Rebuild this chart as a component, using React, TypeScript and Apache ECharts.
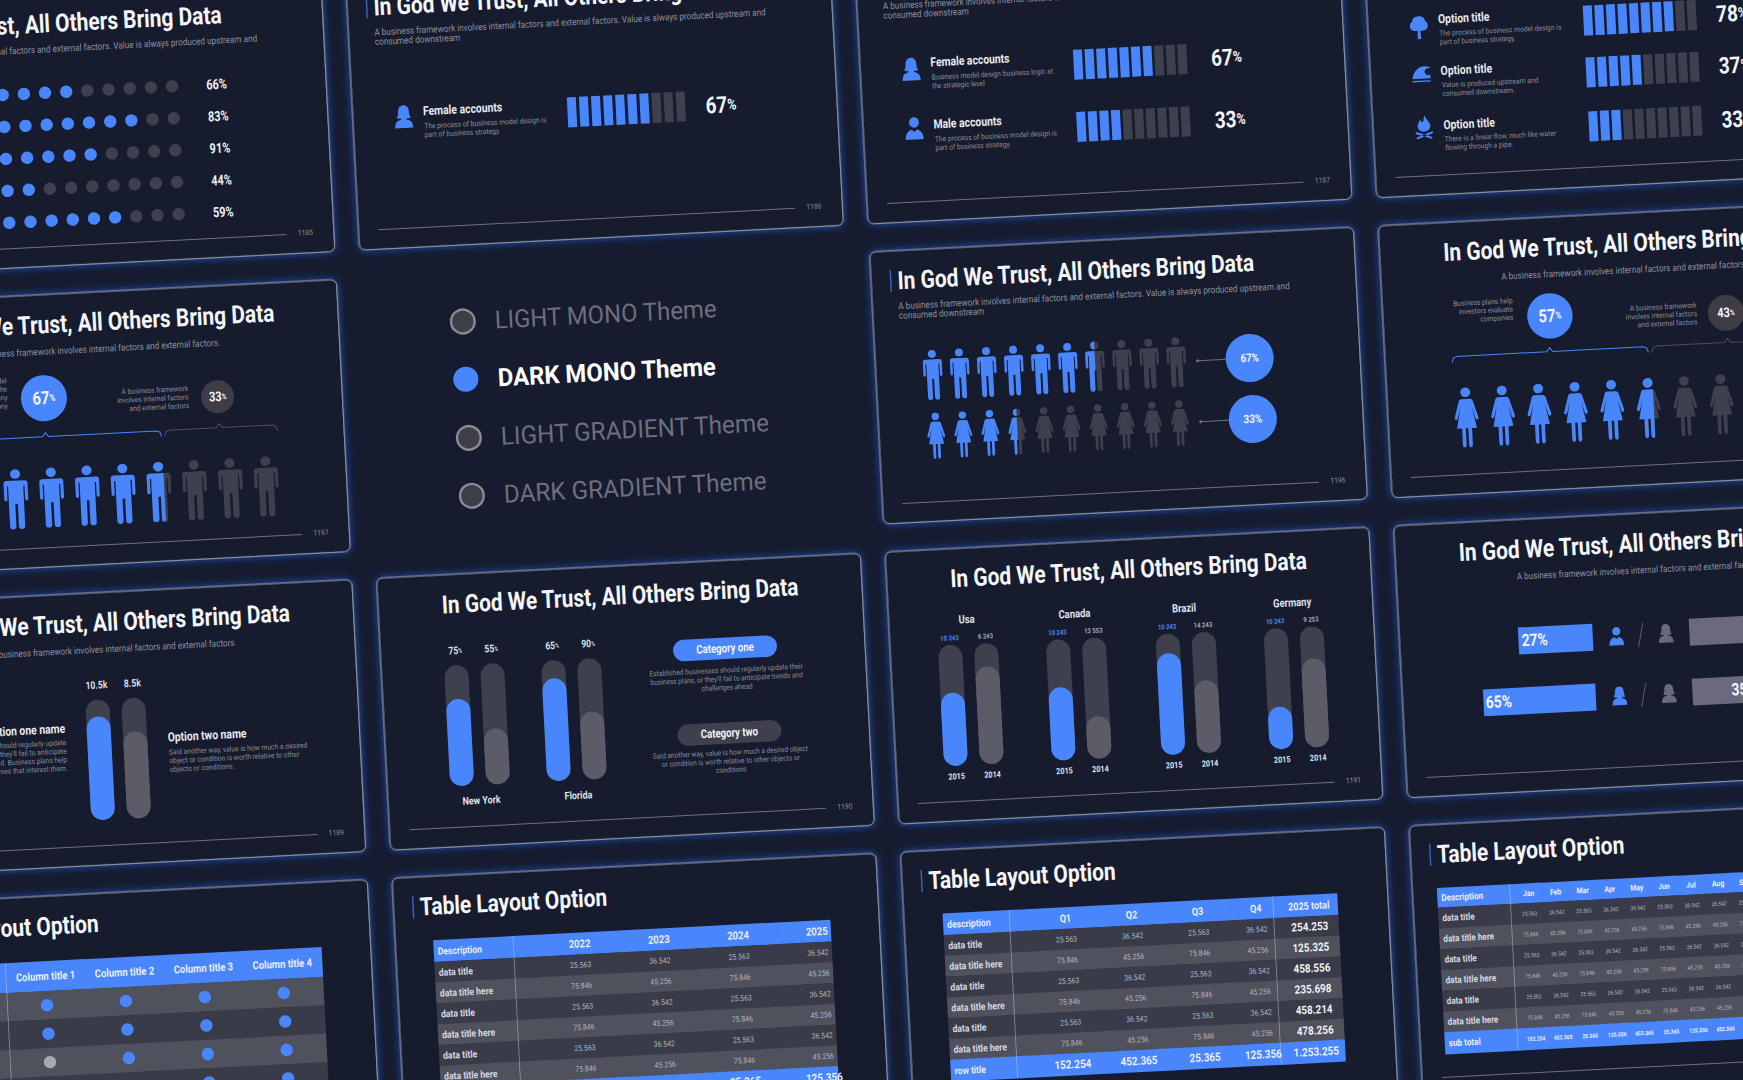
import React, { useEffect, useRef } from "react";
import * as echarts from "echarts";

// ---------- data ----------
const TITLE = "In God We Trust, All Others Bring Data";
const SUB_LONG = ["A business framework involves internal factors and external factors. Value is always produced upstream and", "consumed downstream"];
const SUB_SHORT = "A business framework involves internal factors and external factors";
const themes = ["LIGHT MONO Theme", "DARK MONO Theme", "LIGHT GRADIENT Theme", "DARK GRADIENT Theme"];
const dotLabels = ["66%", "83%", "91%", "44%", "59%"];
const dotFilled = [7, 10, 8, 5, 9];
const optionRows = [
  { icon: "tree", name: "Option title", lines: ["The process of business model design is", "part of business strategy."], filled: 8, label: "78" },
  { icon: "wave", name: "Option title", lines: ["Value is produced upstream and", "consumed downstream."], filled: 5, label: "37" },
  { icon: "fire", name: "Option title", lines: ["There is a linear flow, much like water", "flowing through a pipe."], filled: 3, label: "33" },
];
const accountRows = [
  { icon: "userF", name: "Female accounts", lines: ["Business model design business logic at", "the strategic level"], filled: 7, label: "67" },
  { icon: "userM", name: "Male accounts", lines: ["The process of business model design is", "part of business strategy."], filled: 4, label: "33" },
];
const singleAccount = { icon: "userF", name: "Female accounts", lines: ["The process of business model design is", "part of business strategy."], filled: 7, label: "67" };
const cityFill = [[72, 46], [85, 56]];
const cityLabels = [["75", "55"], ["65", "90"]];
const cityNames = ["New York", "Florida"];
const optionFill = [86, 72];
const countries = ["Usa", "Canada", "Brazil", "Germany"];
const countryFill = [[60.6, 80.7], [60.4, 35], [83.9, 60], [35, 73.5]];
const countryValues = [["10 243", "6 243"], ["10 243", "13 553"], ["10 243", "14 243"], ["10 243", "9 253"]];
const years = ["2015", "2014"];
const leftShare = [43, 65];
const rightShare = [73, 35];
const shareLabels = ["27%", "65%"];
const dotTable = [[1, 1, 1, 1], [1, 1, 1, 1], [0, 1, 1, 1], [1, 0, 1, 1], [1, 1, 1, 1]];
const rowNames = ["data title", "data title here", "data title", "data title here", "data title", "data title here"];
const valsA = ["25.563", "36.542", "25.563", "36.542"];
const valsB = ["75.846", "45.256", "75.846", "45.256"];
const yearHead = ["Description", "2022", "2023", "2024", "2025"];
const quarterHead = ["description", "Q1", "Q2", "Q3", "Q4", "2025 total"];
const quarterTotals = ["254.253", "125.325", "458.556", "235.698", "458.214", "478.256"];
const yearTotal = ["row title", "152.254", "452.365", "25.365", "125.356"];
const quarterTotal = ["row title", "152.254", "452.365", "25.365", "125.356", "1.253.255"];
const monthHead = ["Description", "Jan", "Feb", "Mar", "Apr", "May", "Jun", "Jul", "Aug", "Sep", "Oct", "Nov", "Dec"];
const monthA = ["25.563", "36.542", "25.563", "36.542", "36.542", "25.563", "36.542", "36.542", "25.563", "36.542", "36.542", "25.563"];
const monthB = ["75.846", "45.256", "75.846", "45.256", "45.256", "75.846", "45.256", "45.256", "75.846", "45.256", "45.256", "75.846"];
const monthTotal = ["sub total", "152.254", "452.365", "25.365", "125.356", "452.365", "25.365", "125.356", "452.365", "25.365", "125.356", "452.365", "25.365"];

// ---------- style ----------
const BG = "#161b2f", BLUE = "#4a86fb", DARK = "#3e404d", LIGHT = "#5b5c67";
const FONT = "Roboto";
const DESC = "#8a8d9a";
const MALE = "path://M12 8a8 8 0 1 0 16 0a8 8 0 1 0-16 0zM6 19H34Q39 19 39 24V50Q39 53 36.5 53T34 50V28H32V95Q32 100 27 100T22 95V58H18V95Q18 100 13 100T8 95V28H6V50Q6 53 3.5 53T1 50V24Q1 19 6 19Z";
const MALE_H = "path://M20 0a8 8 0 0 0 0 16zM20 19H6Q1 19 1 24V50Q1 53 3.5 53T6 50V28H8V95Q8 100 13 100T18 95V58H20Z";
const MALE_W = "path://M12 8a8 8 0 1 0 16 0a8 8 0 1 0-16 0zM28 19H6Q1 19 1 24V50Q1 53 3.5 53T6 50V28H8V95Q8 100 13 100T18 95V58H22V95Q22 100 25 100T28 97Z";
const FEMALE = "path://M12 8a8 8 0 1 0 16 0a8 8 0 1 0-16 0zM13 19H27Q30 19 31 22L39 50Q40 53 37.5 54T34 51L29 32L36 68H28V95Q28 100 25 100T22 95V68H18V95Q18 100 15 100T12 95V68H4L11 32L6 51Q5 54 2.5 53T1 50L9 22Q10 19 13 19Z";
const FEMALE_H = "path://M20 0a8 8 0 0 0 0 16zM20 19H13Q10 19 9 22L1 50Q0 53 2.5 54T6 51L11 32L4 68H12V95Q12 100 15 100T18 95V68H20Z";
const FEMALE_W = "path://M12 8a8 8 0 1 0 16 0a8 8 0 1 0-16 0zM28 19H13Q10 19 9 22L1 50Q0 53 2.5 54T6 51L11 32L4 68H12V95Q12 100 15 100T18 95V68H22V95Q22 100 25 100T28 97Z";
const ICONS: Record<string, string> = {
  userF: "M0 -12C-4 -12 -6 -9 -6 -5C-6 -2 -7 0 -8 1C-6 2 -4 2 -3 2L-3 3C-7 4 -10 5 -10 12H10C10 5 7 4 3 3L3 2C4 2 6 2 8 1C7 0 6 -2 6 -5C6 -9 4 -12 0 -12Z",
  userM: "M-5.5 -6a5.5 5.5 0 1 0 11 0a5.5 5.5 0 1 0 -11 0Z M-10 12C-10 5 -6 2 -3 1.5L0 4L3 1.5C6 2 10 5 10 12Z",
  tree: "M-2 12L-1.5 3C-5 4 -10 3 -10 -2C-10 -5 -8 -6 -7 -7C-7 -10 -4 -12 0 -12C4 -12 7 -10 7 -7C9 -6 10 -4 10 -2C10 3 5 4 1.5 3L2 12Z",
  wave: "M-10 4C-9 -4 -3 -9 4 -9C8 -9 10 -8 10 -7C6 -7 3 -5 4 -2C5 1 8 1 10 0V4Z M-10 6H10V7.5H-10Z",
  fire: "M1 -12C3 -7 7 -5 7 -1C7 3 4 5 0 5C-4 5 -7 3 -7 -1C-7 -4 -5 -5 -4 -8C-3 -6 -2 -5 -1 -5C0 -7 0 -10 1 -12Z M-9 5L9 11L8 13L-10 7Z M9 5L-9 11L-8 13L10 7Z",
};
Object.keys(ICONS).forEach((k) => echarts.graphic.registerShape(k, echarts.graphic.extendPath(ICONS[k], {})));

const mctx = document.createElement("canvas").getContext("2d")!;
const fit = (str: string, font: string, w: number) => {
  mctx.font = font;
  return w / mctx.measureText(str).width;
};

const SW = 484.6, SH = 272.4;
const OX = 200, OY = 20;
const S = (c: number, r: number) => ({ x: OX + 855.4 + (c - 2) * 509.2, y: OY + 596.8 + (r - 3) * 300.4 });

function buildOption() {
  const g: any[] = [], grid: any[] = [], xAxis: any[] = [], yAxis: any[] = [], series: any[] = [];
  const addGrid = (left: number, top: number, width: number, height: number, x: any, y: any) => {
    grid.push({ left, top, width, height, containLabel: false, show: false });
    xAxis.push({ gridIndex: grid.length - 1, show: false, ...x });
    yAxis.push({ gridIndex: grid.length - 1, show: false, ...y });
    return grid.length - 1;
  };
  const titleSX = fit(TITLE, `bold 25px ${FONT}`, 358);
  const T = (s: any, lx: number, ly: number, text: string, size: number, weight: any, fill: string, align = "left", sx = 0.9) =>
    g.push({
      type: "text", x: s.x + lx, y: s.y + ly, scaleX: sx, z: 10, silent: true,
      style: { text, fontSize: size, fontWeight: weight, fontFamily: FONT, fill, align, textAlign: align, verticalAlign: "middle", textVerticalAlign: "middle" },
    });
  const Rich = (s: any, lx: number, ly: number, big: string, size: number, small: string, smallSize: number, align = "center", fill = "#f2f4fa") =>
    g.push({
      type: "text", x: s.x + lx, y: s.y + ly, scaleX: 0.82, z: 10, silent: true,
      style: {
        text: `{a|${big}}{b|${small}}`, align, textAlign: align, verticalAlign: "middle", textVerticalAlign: "middle",
        rich: { a: { fontSize: size, fontWeight: "bold", fontFamily: FONT, fill, color: fill }, b: { fontSize: smallSize, fontWeight: "bold", fontFamily: FONT, fill, color: fill } },
      },
    });
  const slide = (s: any) =>
    g.push({
      type: "rect", x: s.x, y: s.y, z: 0, silent: true, shape: { width: SW, height: SH, r: 6 },
      style: { fill: BG, stroke: "#9aa0b0", lineWidth: 1, shadowBlur: 8, shadowColor: "rgba(35,95,225,0.75)" },
    });
  const titleLeft = (s: any, text: string) => {
    g.push({ type: "rect", x: s.x + 19, y: s.y + 19, z: 1, silent: true, shape: { width: 1.4, height: 22 }, style: { fill: "#3565c8" } });
    T(s, 26.5, 30.5, text, 25, "bold", "#f4f6fb", "left", titleSX);
  };
  const titleCenter = (s: any) => T(s, SW / 2, 30.5, TITLE, 25, "bold", "#f4f6fb", "center", titleSX);
  const subLeft = (s: any) => {
    SUB_LONG.forEach((t, i) => T(s, 26, 55.5 + i * 9.6, t, 9.5, "normal", "#8d909d", "left", 0.86));
  };
  const subCenter = (s: any, text: string) => T(s, SW / 2, 57, text, 9.5, "normal", "#8d909d", "center", 0.86);
  const footer = (s: any, n?: string) => {
    g.push({ type: "line", z: 1, silent: true, shape: { x1: s.x + 20, y1: s.y + 253, x2: s.x + 437, y2: s.y + 253 }, style: { stroke: "#6f727f", lineWidth: 1 } });
    if (n) T(s, 456, 252, n, 7.5, "normal", "#8a8d9a", "center", 0.9);
  };
  const icon = (s: any, name: string, lx: number, ly: number, fill = BLUE, k = 1) =>
    g.push({ type: name, x: s.x + lx, y: s.y + ly, scaleX: 0.9 * k, scaleY: 0.95 * k, z: 5, silent: true, style: { fill } });
  const circle = (s: any, lx: number, ly: number, r: number, fill: string, stroke?: string) =>
    g.push({ type: "circle", z: 5, silent: true, shape: { cx: s.x + lx, cy: s.y + ly, r }, style: stroke ? { fill, stroke, lineWidth: 2.4 } : { fill } });

  const segments = (s: any, lx: number, ly: number, step: number, filled: number) => {
    const cats = Array.from({ length: 10 }, (_, i) => i);
    const gi = addGrid(s.x + lx - step / 2, s.y + ly - 15, step * 10, 30, { type: "category", data: cats }, { type: "value", min: 0, max: 1 });
    series.push({
      type: "bar", xAxisIndex: gi, yAxisIndex: gi, barWidth: 9, silent: true,
      data: cats.map((i) => ({ value: 1, itemStyle: { color: i < filled ? BLUE : DARK } })),
    });
  };
  const infoRow = (s: any, row: any, iconY: number, nameY: number, descY: number, barX: number, barY: number, step: number, valX: number, bigSize: number) => {
    icon(s, row.icon, 51, iconY);
    T(s, 70.5, nameY, row.name, 12.5, "bold", "#e8eaf0", "left", 0.83);
    row.lines.forEach((t: string, i: number) => T(s, 71, descY + i * 8.7, t, 7.5, "normal", DESC, "left", 0.9));
    segments(s, barX, barY, step, row.filled);
    Rich(s, valX, barY, row.label, bigSize, "%", bigSize * 0.66);
  };
  const people = (s: any, lx0: number, step: number, ly: number, n: number, w: number, h: number, female: boolean, full: number, wide = false) => {
    const cats = Array.from({ length: n }, (_, i) => i);
    const gi = addGrid(s.x + lx0 - step / 2, s.y + ly - h / 2, step * n, h, { type: "category", data: cats }, { type: "category", data: [0] });
    series.push({
      type: "scatter", xAxisIndex: gi, yAxisIndex: gi, symbol: female ? FEMALE : MALE, symbolSize: [w, h], clip: false, silent: true,
      data: cats.map((i) => ({ value: [i, 0], itemStyle: { color: i < full ? BLUE : DARK, opacity: 1 } })),
    });
    series.push({
      type: "scatter", xAxisIndex: gi, yAxisIndex: gi, clip: false, silent: true, z: 3,
      symbol: wide ? (female ? FEMALE_W : MALE_W) : female ? FEMALE_H : MALE_H,
      symbolSize: wide ? [(w * 27) / 38, h] : [w / 2, h],
      symbolOffset: wide ? ["-20%", 0] : ["-50%", 0],
      data: [{ value: [full, 0], itemStyle: { color: BLUE, opacity: 1 } }],
    });
  };
  const pillPair = (s: any, lx: number, top: number, bottom: number, vals: number[]) => {
    const gi = addGrid(s.x + lx - 18, s.y + top, 72, bottom - top, { type: "category", data: [0, 1] }, { type: "value", min: 0, max: 100 });
    series.push({ type: "bar", xAxisIndex: gi, yAxisIndex: gi, barWidth: 24, barGap: "-100%", silent: true, itemStyle: { color: DARK, borderRadius: 12 }, data: [100, 100] });
    series.push({
      type: "bar", xAxisIndex: gi, yAxisIndex: gi, barWidth: 24, barGap: "-100%", silent: true,
      data: [{ value: vals[0], itemStyle: { color: BLUE, borderRadius: 12 } }, { value: vals[1], itemStyle: { color: LIGHT, borderRadius: 12 } }],
    });
  };
  const brace = (s: any, x0: number, peak: number, x1: number, y: number, stroke: string) =>
    g.push({
      type: "polyline", z: 3, silent: true,
      shape: { points: [[x0, y + 6], [x0 + 1.5, y + 1.5], [x0 + 5, y], [peak - 3, y], [peak, y - 4], [peak + 3, y], [x1 - 5, y], [x1 - 1.5, y + 1.5], [x1, y + 6]].map((p) => [s.x + p[0], s.y + p[1]]) },
      style: { stroke, lineWidth: 1, fill: "none" },
    });
  const table = (s: any, cfg: any) => {
    const { x0, y0, hH, rH, edges, centers, rows, fonts, firstDark } = cfg;
    const W = edges[edges.length - 1] - x0;
    const totalH = cfg.total ? rH + 1 : 0;
    const H = hH + rH * rows.length + totalH;
    const rects: any[] = [];
    const texts: any[] = [];
    const rowOut = (vals: string[], t: number, u: number, fill: string, kind: string) => {
      edges.slice(0, -1).forEach((a: number, i: number) => {
        const f = fonts[kind];
        const isTotal = cfg.lastCol && i === edges.length - 2 && kind === "row";
        const rect = [a - x0, t, edges[i + 1] - x0 + 0.6, u + 0.4];
        rects.push({ rect, fill });
        if (vals[i]) {
          texts.push({
            rect, text: vals[i],
            tc: i === 0 ? f.labelColor : isTotal ? "#f0f2f7" : f.color,
            size: i === 0 ? f.label : isTotal ? 11.5 : f.num,
            weight: i === 0 || isTotal || f.bold ? "bold" : "normal",
            align: i === 0 ? "left" : "center", sx: 0.86,
            cx: i === 0 ? a - x0 + 4 : centers[i] - x0,
          });
        }
      });
    };
    rowOut(cfg.head, 0, hH, BLUE, "head");
    rows.forEach((r: string[], i: number) => {
      const dark = (i % 2 === 0) === firstDark;
      rowOut(r, hH + i * rH, hH + (i + 1) * rH, dark ? "#393b48" : "#4f515d", "row");
    });
    if (cfg.total) rowOut(cfg.total, hH + rows.length * rH, H, BLUE, "total");
    (cfg.dividers || []).forEach((d: number) => rects.push({ rect: [d - x0, 0, d - x0 + 0.8, H], fill: "rgba(200,205,218,0.55)" }));
    const cells = [...rects, ...texts];
    const gi = addGrid(s.x + x0, s.y + y0, W, H, { type: "value", min: 0, max: W }, { type: "value", min: 0, max: H, inverse: true });
    series.push({
      type: "custom", xAxisIndex: gi, yAxisIndex: gi, clip: false, silent: true, z: 2,
      encode: { x: [0, 2], y: [1, 3] },
      data: cells.map((c) => c.rect),
      renderItem: (p: any, api: any) => {
        const c = cells[p.dataIndex];
        const a = api.coord([api.value(0), api.value(1)]);
        const b = api.coord([api.value(2), api.value(3)]);
        if (!c.text) return { type: "rect", shape: { x: a[0], y: a[1], width: b[0] - a[0], height: b[1] - a[1] }, style: { fill: c.fill } };
        return {
          type: "text", x: api.coord([c.cx, 0])[0], y: (a[1] + b[1]) / 2, scaleX: c.sx,
          style: { text: c.text, fill: c.tc, fontSize: c.size, fontWeight: c.weight, fontFamily: FONT, align: c.align, textAlign: c.align, verticalAlign: "middle", textVerticalAlign: "middle" },
        };
      },
    });
  };

  for (let r = 1; r <= 4; r++) for (let c = 0; c <= 3; c++) if (!(c === 1 && r === 2)) slide(S(c, r));

  // (0,1) dots
  {
    const s = S(0, 1);
    titleLeft(s, TITLE); subLeft(s); footer(s, "1185");
    const cats = Array.from({ length: 12 }, (_, i) => i);
    const gi = addGrid(s.x + 330.4 - 11.5 * 21.2, s.y + 83, 12 * 21.2, 160, { type: "category", data: cats }, { type: "category", data: dotLabels, inverse: true });
    series.push({
      type: "scatter", xAxisIndex: gi, yAxisIndex: gi, symbolSize: 12.4, clip: false, silent: true,
      data: dotFilled.flatMap((f, row) => cats.map((i) => ({ value: [i, row], itemStyle: { color: i < f ? BLUE : DARK, opacity: 1 } }))),
    });
    dotLabels.forEach((t, i) => T(s, 375, 99 + i * 32, t, 14, "bold", "#eef0f5", "center", 0.78));
  }
  // (1,1)
  {
    const s = S(1, 1);
    titleLeft(s, TITLE); subLeft(s); footer(s, "1186");
    infoRow(s, singleAccount, 141.3, 136.6, 151.6, 219.3, 145.5, 12.1, 368.5, 23);
  }
  // (2,1)
  {
    const s = S(2, 1);
    subLeft(s); footer(s, "1187");
    infoRow(s, accountRows[0], 120, 114, 129, 218, 124, 11.6, 366.5, 23);
    infoRow(s, accountRows[1], 179, 176, 191, 218, 186.3, 11.6, 367, 23);
  }
  // (3,1)
  {
    const s = S(3, 1);
    footer(s);
    const iconYs = [104.7, 152, 204];
    const nameYs = [97, 148.7, 203];
    const descYs = [111.3, 163, 217];
    const barYs = [106.2, 158, 212];
    optionRows.forEach((o, i) => infoRow(s, o, iconYs[i], nameYs[i], descYs[i], 220.2, barYs[i], 11.55, 364, 23));
  }
  // theme list
  {
    const s = S(1, 2);
    const ys = [48.5, 106.3, 165, 223];
    const ws = [223, 219, 270, 264];
    themes.forEach((t, i) => {
      const active = i === 1;
      circle(s, 99.5, ys[i], active ? 12.6 : 11.8, active ? BLUE : "#3e3e48", active ? undefined : "#8b8b92");
      const weight = active ? "bold" : "normal";
      T(s, 131.5, ys[i], t, 25, weight, active ? "#ffffff" : "#6d6f7a", "left", fit(t, `${weight} 25px ${FONT}`, ws[i]));
    });
  }
  // (2,2) people
  {
    const s = S(2, 2);
    titleLeft(s, TITLE); subLeft(s); footer(s, "1196");
    people(s, 57, 27.1, 126, 10, 19, 50, false, 6);
    people(s, 57.2, 27.1, 187, 10, 18, 46, true, 3);
    [[125.5, "67%"], [186.5, "33%"]].forEach(([y, t]: any) => {
      g.push({ type: "line", z: 3, silent: true, shape: { x1: s.x + 322, y1: s.y + y, x2: s.x + 352, y2: s.y + y }, style: { stroke: "#6e7180", lineWidth: 1 } });
      circle(s, 322, y, 1.5, "#6e7180");
      circle(s, 374.2, y, 24, BLUE);
      T(s, 374.2, y, t, 11.5, "bold", "#f2f4fa", "center", 0.85);
    });
  }
  // (0,2) men
  {
    const s = S(0, 2);
    titleCenter(s);
    subCenter(s, SUB_SHORT + ".");
    footer(s, "1197");
    ["Business model", "design is the", "core of the company", "strategy of any"].forEach((t, i) => T(s, 150, 84 + i * 8.4, t, 7.5, "normal", DESC, "right", 0.9));
    circle(s, 186.4, 103.5, 23, BLUE);
    Rich(s, 186.4, 103.5, "67", 18, "%", 10);
    ["A business framework", "involves internal factors", "and external factors"].forEach((t, i) => T(s, 331, 101 + i * 8.6, t, 7.5, "normal", DESC, "right", 0.9));
    circle(s, 360, 111, 16.5, "#3e3c45");
    Rich(s, 360, 111, "33", 13.5, "%", 8);
    brace(s, 70, 186, 302, 142, BLUE);
    brace(s, 305, 360, 418, 142, "#4d4f5b");
    people(s, 82, 35.8, 203, 10, 24, 60, false, 6, true);
  }
  // (3,2) women
  {
    const s = S(3, 2);
    titleCenter(s);
    subCenter(s, SUB_SHORT);
    footer(s);
    ["Business plans help", "investors evaluate", "companies"].forEach((t, i) => T(s, 130.5, 81.5 + i * 8.4, t, 7.5, "normal", DESC, "right", 0.9));
    circle(s, 167, 98.8, 22.7, BLUE);
    Rich(s, 167, 98.8, "57", 18, "%", 10);
    ["A business framework", "involves internal factors", "and external factors"].forEach((t, i) => T(s, 314, 95.5 + i * 8.4, t, 7.5, "normal", DESC, "right", 0.9));
    circle(s, 343, 104.8, 18, "#3e3c45");
    Rich(s, 343, 104.8, "43", 13.5, "%", 8);
    brace(s, 67, 165, 263.5, 134.5, BLUE);
    brace(s, 267, 343, 420, 134.5, "#4d4f5b");
    people(s, 78.5, 36.5, 196, 10, 24, 60, true, 5, true);
  }
  // (0,3) option pills
  {
    const s = S(0, 3);
    titleCenter(s);
    subCenter(s, SUB_SHORT);
    footer(s, "1189");
    T(s, 224, 92, "10.5k", 10.5, "bold", "#dcdfe6", "center", 0.82);
    T(s, 260, 92, "8.5k", 10.5, "bold", "#dcdfe6", "center", 0.82);
    pillPair(s, 224, 107, 227.5, optionFill);
    T(s, 190.5, 134, "Option one name", 12.5, "bold", "#e8eaf0", "right", 0.83);
    ["Established businesses should regularly update", "their business plans, or they'll fail to anticipate", "trends and challenges ahead. Business plans help", "investors evaluate companies that interest them."].forEach((t, i) => T(s, 191, 148 + i * 8.6, t, 7.5, "normal", DESC, "right", 0.9));
    T(s, 292.5, 148, "Option two name", 12.5, "bold", "#e8eaf0", "left", 0.83);
    ["Said another way, value is how much a desired", "object or condition is worth relative to other", "objects or conditions."].forEach((t, i) => T(s, 293, 163 + i * 8.6, t, 7.5, "normal", DESC, "left", 0.9));
  }
  // (1,3) cities
  {
    const s = S(1, 3);
    titleCenter(s); footer(s, "1190");
    [75, 172].forEach((lx, k) => {
      pillPair(s, lx, 91, 212, cityFill[k]);
      Rich(s, lx, 76, cityLabels[k][0], 10.5, "%", 6.5, "center", "#dcdfe6");
      Rich(s, lx + 36, 76, cityLabels[k][1], 10.5, "%", 6.5, "center", "#dcdfe6");
      T(s, lx + 18.5, 227, cityNames[k], 10.5, "bold", "#dfe2e8", "center", 0.85);
    });
    g.push({ type: "rect", x: s.x + 292.5, y: s.y + 77.3, z: 5, silent: true, shape: { width: 104, height: 21.4, r: 10.7 }, style: { fill: BLUE } });
    T(s, 344.5, 88, "Category one", 12, "bold", "#f2f4fa", "center", 0.8);
    ["Established businesses should regularly update their", "business plans, or they'll fail to anticipate trends and", "challenges ahead"].forEach((t, i) => T(s, 344.5, 109.5 + i * 8.7, t, 7.5, "normal", DESC, "center", 0.88));
    g.push({ type: "rect", x: s.x + 292.5, y: s.y + 162, z: 5, silent: true, shape: { width: 104, height: 21.4, r: 10.7 }, style: { fill: DARK } });
    T(s, 344.5, 172.7, "Category two", 12, "bold", "#f2f4fa", "center", 0.8);
    ["Said another way, value is how much a desired object", "or condition is worth relative to other objects or", "conditions"].forEach((t, i) => T(s, 344.5, 192 + i * 8.7, t, 7.5, "normal", DESC, "center", 0.88));
  }
  // (2,3) countries
  {
    const s = S(2, 3);
    titleCenter(s); footer(s, "1191");
    [60, 168, 277.8, 386].forEach((lx, k) => {
      pillPair(s, lx, 96.3, 217.3, countryFill[k]);
      T(s, lx + 18, 71.5, countries[k], 11.5, "bold", "#dfe2e8", "center", 0.82);
      T(s, lx, 89.5, countryValues[k][0], 7, "bold", BLUE, "center", 0.85);
      T(s, lx + 36, 89.5, countryValues[k][1], 7, "bold", "#a6a9b4", "center", 0.85);
      T(s, lx, 228, years[0], 8.5, "bold", "#dfe2e8", "center", 0.85);
      T(s, lx + 36, 228, years[1], 8.5, "bold", "#dfe2e8", "center", 0.85);
    });
  }
  // (3,3) share bars
  {
    const s = S(3, 3);
    titleCenter(s);
    subCenter(s, SUB_SHORT);
    footer(s);
    const gl = addGrid(s.x + 80.3, s.y + 91.5, 113, 120, { type: "value", min: 0, max: 65.3, inverse: true }, { type: "category", data: shareLabels, inverse: true });
    series.push({ type: "bar", xAxisIndex: gl, yAxisIndex: gl, barWidth: 27, silent: true, itemStyle: { color: BLUE }, data: leftShare });
    const gr = addGrid(s.x + 290, s.y + 91.5, 194, 120, { type: "value", min: 0, max: 83 }, { type: "category", data: shareLabels, inverse: true });
    series.push({ type: "bar", xAxisIndex: gr, yAxisIndex: gr, barWidth: 27, silent: true, itemStyle: { color: "#6a6980" }, data: rightShare });
    T(s, 122, 121.5, shareLabels[0], 17, "bold", "#f2f4fa", "left", 0.82);
    T(s, 83, 181.5, shareLabels[1], 17, "bold", "#f2f4fa", "left", 0.82);
    T(s, 329, 181.5, "35%", 17, "bold", "#f2f4fa", "left", 0.82);
    [121.5, 181.5].forEach((y, i) => {
      icon(s, i === 0 ? "userM" : "userF", 217, y, BLUE, 0.82);
      icon(s, "userF", 266.5, y, "#6a6980", 0.82);
      g.push({ type: "line", z: 3, silent: true, shape: { x1: s.x + 244, y1: s.y + y - 12, x2: s.x + 238.5, y2: s.y + y + 12 }, style: { stroke: "#5b5c67", lineWidth: 1 } });
    });
  }
  // (0,4) dot table
  {
    const s = S(0, 4);
    titleLeft(s, "Table Layout Option");
    const head = ["", "Column title 1", "Column title 2", "Column title 3", "Column title 4"];
    const fonts = { head: { label: 10.5, num: 11, color: "#e8eefc", labelColor: "#e8eefc", bold: true }, row: { label: 10, num: 8, color: "#b9bcc6", labelColor: "#d0d3dc" }, total: { label: 10, num: 8, color: "#fff", labelColor: "#fff" } };
    table(s, { x0: 43, y0: 65, hH: 29.8, rH: 28.5, edges: [43, 118.8, 197.8, 276.8, 355.8, 434.8], centers: [0, 158.3, 237.3, 316.3, 395.3], head, rows: dotTable.map(() => ["", "", "", "", ""]), fonts, firstDark: false, dividers: [118.3] });
    const gi = addGrid(s.x + 118.8, s.y + 94.8, 316, 142.5, { type: "category", data: [0, 1, 2, 3] }, { type: "category", data: [0, 1, 2, 3, 4], inverse: true });
    series.push({
      type: "scatter", xAxisIndex: gi, yAxisIndex: gi, symbolSize: 12.4, clip: false, silent: true, z: 3,
      data: dotTable.flatMap((row, ri) => row.map((v, ci) => ({ value: [ci, ri], itemStyle: { color: v ? BLUE : "#a7a8b0", opacity: 1 } }))),
    });
  }
  const tableFonts = (num: number, total: number, label: number, head: number) => ({
    head: { label, num: head, color: "#e8eefc", labelColor: "#e8eefc", bold: true },
    row: { label, num, color: "#b3b6c1", labelColor: "#d6d9e0" },
    total: { label, num: total, color: "#e8eefc", labelColor: "#e8eefc", bold: true },
  });
  const abRows = (a: string[], b: string[], lastCol?: string[]) =>
    rowNames.map((n, i) => [n, ...(i % 2 === 0 ? a : b), ...(lastCol ? [lastCol[i]] : [])]);
  // (1,4)
  {
    const s = S(1, 4);
    titleLeft(s, "Table Layout Option");
    table(s, { x0: 38, y0: 64, hH: 21.7, rH: 20.8, edges: [38, 117.5, 224, 303, 382, 435.2], centers: [0, 184, 263.4, 342.7, 421.6], head: yearHead, rows: abRows(valsA, valsB), total: yearTotal, fonts: tableFonts(8, 11.5, 10, 11), firstDark: true, dividers: [117.5] });
  }
  // (2,4)
  {
    const s = S(2, 4);
    titleLeft(s, "Table Layout Option");
    table(s, { x0: 38.9, y0: 63.6, hH: 21.6, rH: 20.8, edges: [38.9, 105, 194.5, 260.5, 326.5, 369, 433.5], centers: [0, 161.3, 227.5, 293.7, 352, 405], head: quarterHead, rows: abRows(valsA, valsB, quarterTotals), total: quarterTotal, fonts: tableFonts(8, 11.5, 10, 10.5), firstDark: true, lastCol: true, dividers: [105, 369] });
  }
  // (3,4)
  {
    const s = S(3, 4);
    titleLeft(s, "Table Layout Option");
    footer(s);
    const edges = [24.6, 97, ...monthHead.slice(2).map((_, i) => 129.6 + i * 27.1), 454];
    const centers = monthHead.map((_, i) => 116 + (i - 1) * 27.1);
    table(s, { x0: 24.6, y0: 63.6, hH: 19.6, rH: 20.8, edges, centers, head: monthHead, rows: abRows(monthA, monthB), total: monthTotal, fonts: tableFonts(5.8, 5.8, 9.5, 8), firstDark: true, dividers: [97] });
  }

  return { animation: false, backgroundColor: BG, graphic: { elements: g }, grid, xAxis, yAxis, series };
}

export default function App() {
  const ref = useRef<HTMLDivElement>(null);
  useEffect(() => {
    const chart = echarts.init(ref.current!, undefined, { renderer: "svg" });
    chart.setOption(buildOption() as any);
    return () => chart.dispose();
  }, []);
  return (
    <div style={{ position: "fixed", left: 0, top: 0, width: 1743, height: 1080, overflow: "hidden", background: BG }}>
      <div
        ref={ref}
        style={{ position: "absolute", left: -OX, top: -OY, width: 2200, height: 1240, transformOrigin: `${OX}px ${OY}px`, transform: "rotate(-2.95deg)" }}
      />
    </div>
  );
}
